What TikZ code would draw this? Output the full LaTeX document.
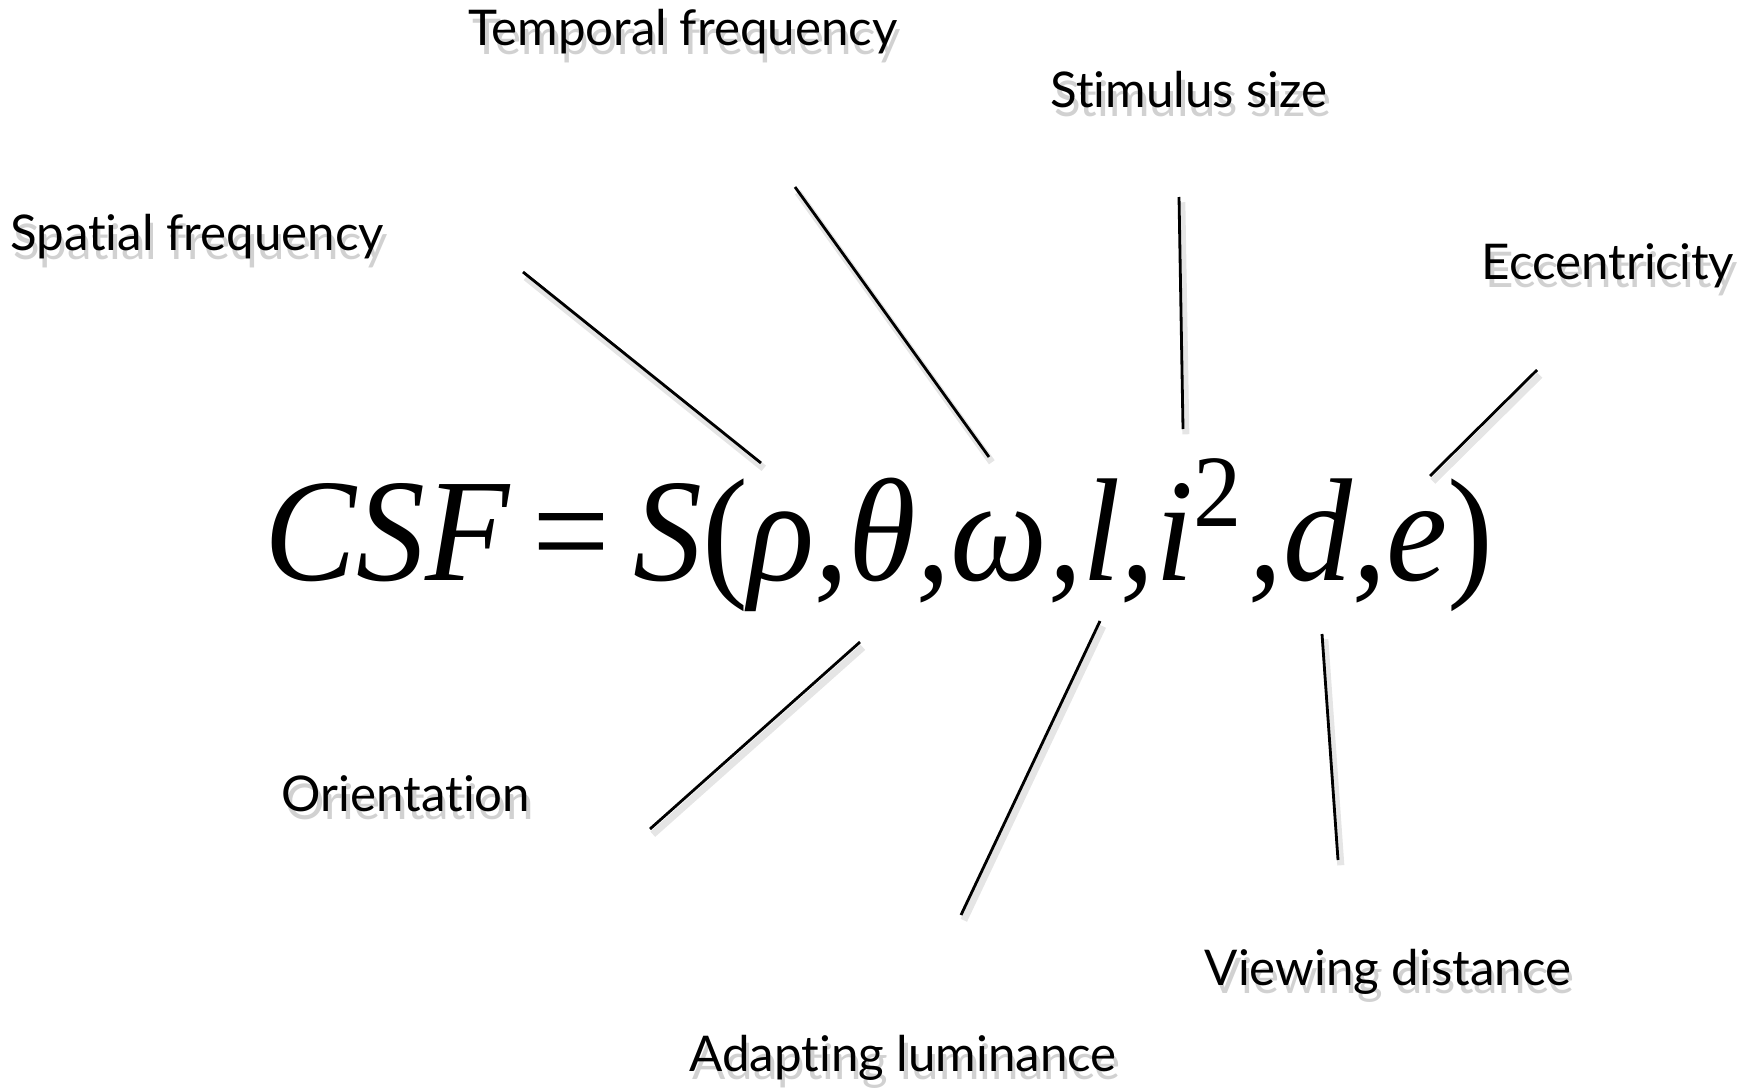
\documentclass[tikz,border=0pt]{standalone}
\usepackage{fontspec}
\setmainfont{Lato}[Ligatures=NoCommon]
\newfontfamily\eqfont{Liberation Serif}
\newcommand{\shadowed}[1]{\makebox[0pt][l]{\hspace{1.0pt}\raisebox{-2.4pt}{\textcolor{black!18}{#1}}}#1}
\tikzset{
  lbl/.style={font=\fontsize{14}{16}\selectfont, inner sep=0pt, anchor=center},
  ray/.style={draw=black, line width=0.8pt,
    preaction={draw=black!10, line width=2pt, transform canvas={shift={(0.8pt,-1.5pt)}}}},
}
\begin{document}
\begin{tikzpicture}[x=0.01cm, y=-0.01cm]
\useasboundingbox (0,0) rectangle (1749,1088);
% labels
\node[lbl] (temporal) at (683,36) {\shadowed{Temporal frequency}};
\node[lbl] (size) at (1189,94) {\shadowed{Stimulus size}};
\node[lbl] (spatial) at (197,241) {\shadowed{Spatial frequency}};
\node[lbl] (ecc) at (1608,270) {\shadowed{Eccentricity}};
\node[lbl] (orient) at (406,798) {\shadowed{Orientation}};
\node[lbl] (dist) at (1388,976) {\shadowed{Viewing distance}};
\node[lbl] (lum) at (903,1062) {\shadowed{Adapting luminance}};
% equation
\node[anchor=base west, inner sep=0pt] (eq) at (264,580)
  {\resizebox{12.28cm}{1.21cm}{\eqfont\itshape CSF\,{\upshape=}\,S{\upshape(}ρ,θ,ω,l,i\textsuperscript{\upshape 2},d,e{\upshape)}}};
% ray end points
\coordinate (r1a) at (523,272); \coordinate (r1b) at (761,463);
\coordinate (r2a) at (795,187); \coordinate (r2b) at (989,457);
\coordinate (r3a) at (1179,197); \coordinate (r3b) at (1183,429);
\coordinate (r4a) at (1537,370); \coordinate (r4b) at (1430,476);
\coordinate (r5a) at (860,642); \coordinate (r5b) at (650,829);
\coordinate (r6a) at (1100,621); \coordinate (r6b) at (961,915);
\coordinate (r7a) at (1322,634); \coordinate (r7b) at (1338,860);
\draw[ray] (r1a) -- (r1b);
\draw[ray] (r2a) -- (r2b);
\draw[ray] (r3a) -- (r3b);
\draw[ray] (r4a) -- (r4b);
\draw[ray] (r5a) -- (r5b);
\draw[ray] (r6a) -- (r6b);
\draw[ray] (r7a) -- (r7b);
\end{tikzpicture}
\end{document}
